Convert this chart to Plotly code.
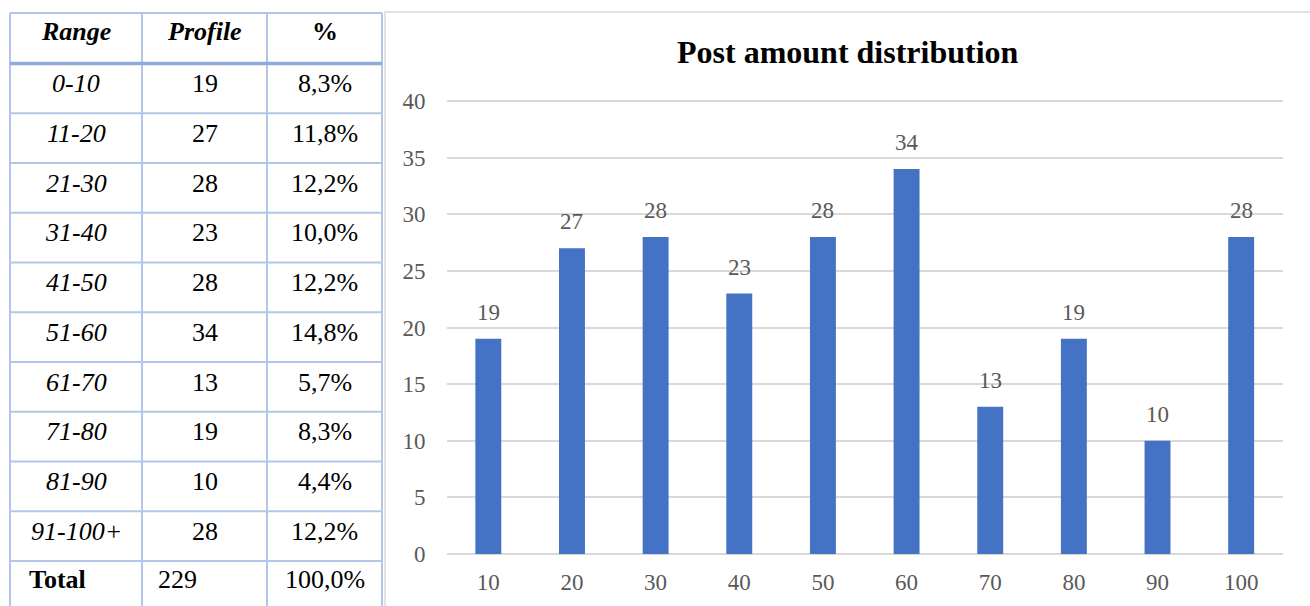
import plotly.graph_objects as go

# Post counts per range
ranges = ["0-10", "11-20", "21-30", "31-40", "41-50", "51-60", "61-70", "71-80", "81-90", "91-100+"]
profiles = [19, 27, 28, 23, 28, 34, 13, 19, 10, 28]
percents = ["8,3%", "11,8%", "12,2%", "10,0%", "12,2%", "14,8%", "5,7%", "8,3%", "4,4%", "12,2%"]
bin_labels = ["10", "20", "30", "40", "50", "60", "70", "80", "90", "100"]
total_label = "229"
total_pct = "100,0%"

W, H = 1310, 606
SERIF = "Liberation Serif, Times New Roman, serif"
BAR = "#4472C4"
GRID = "#d9d9d9"
TICK = "#595959"
TBL_LINE = "#B4C6E7"
TBL_HEAD = "#8EAADB"

# pixel geometry of the chart area
Y_ZERO_PX, Y_40_PX = 554, 101
Y_TOP = 40.2
unit_px = (Y_ZERO_PX - Y_40_PX) / 40


def px(x):
    return x / W


def py(y):
    return 1 - y / H


fig = go.Figure()
fig.add_trace(go.Bar(
    x=bin_labels, y=profiles, marker=dict(color=BAR, line=dict(width=0)),
    hoverinfo="x+y",
))

# value labels above the bars (x given as category index)
annotations = []
for i, v in enumerate(profiles):
    annotations.append(dict(
        x=i, y=v, xref="x", yref="y", text=str(v), showarrow=False,
        yanchor="bottom", yshift=12, font=dict(family=SERIF, size=23, color=TICK),
    ))

# ---- table on the left ----
shapes = []
col_x = [10, 142, 267, 382]
row_step = 49.75
row_tops = [63.5 + i * row_step for i in range(len(ranges) + 1)]  # data rows + total row
table_top = 13

for x in col_x:
    shapes.append(dict(type="line", xref="paper", yref="paper",
                       x0=px(x), x1=px(x), y0=py(table_top), y1=py(H + 5),
                       line=dict(color=TBL_LINE, width=2)))
shapes.append(dict(type="line", xref="paper", yref="paper",
                   x0=px(col_x[0]), x1=px(col_x[-1]), y0=py(table_top), y1=py(table_top),
                   line=dict(color=TBL_LINE, width=2)))
for i, y in enumerate(row_tops):
    color, width = (TBL_HEAD, 3.5) if i == 0 else (TBL_LINE, 2)
    shapes.append(dict(type="line", xref="paper", yref="paper",
                       x0=px(col_x[0]), x1=px(col_x[-1]), y0=py(y), y1=py(y),
                       line=dict(color=color, width=width)))

col_centers = [(col_x[i] + col_x[i + 1]) / 2 for i in range(3)]


def cell(text, x, y, size=26, anchor="center", color="black"):
    annotations.append(dict(
        x=px(x), y=py(y), xref="paper", yref="paper", text=text, showarrow=False,
        xanchor=anchor, yanchor="middle", font=dict(family=SERIF, size=size, color=color),
    ))


# header
cell("<b><i>Range</i></b>", col_centers[0], table_top + 19)
cell("<b><i>Profile</i></b>", col_centers[1], table_top + 19)
cell("<b>%</b>", col_centers[2], table_top + 19)

for i, (r, p, pc) in enumerate(zip(ranges, profiles, percents)):
    yc = row_tops[i] + 20
    cell(f"<i>{r}</i>", col_centers[0], yc)
    cell(str(p), col_centers[1], yc)
    cell(pc, col_centers[2], yc)

yt = row_tops[len(ranges)] + 18
cell("<b>Total</b>", 27, yt, anchor="left")
cell(total_label, 156, yt, anchor="left")
cell(total_pct, col_centers[2], yt)

# chart frame
shapes.append(dict(type="rect", xref="paper", yref="paper",
                   x0=px(385), x1=px(W + 5), y0=py(12), y1=py(H + 5),
                   line=dict(color=GRID, width=1.5), layer="below"))

# title
annotations.append(dict(
    x=px(848), y=py(52), xref="paper", yref="paper", text="<b>Post amount distribution</b>",
    showarrow=False, xanchor="center", yanchor="middle",
    font=dict(family=SERIF, size=32, color="black"),
))

fig.update_layout(
    width=W, height=H, margin=dict(l=0, r=0, t=0, b=0, autoexpand=False),
    paper_bgcolor="white", plot_bgcolor="white",
    showlegend=False, bargap=0.69,
    shapes=shapes, annotations=annotations,
    xaxis=dict(
        domain=[px(446.5), px(1283)], type="category", range=[-0.5, len(bin_labels) - 0.5],
        showgrid=False, showline=False, zeroline=False, ticks="",
        tickfont=dict(family=SERIF, size=23, color=TICK), ticklabelstandoff=12,
    ),
    yaxis=dict(
        domain=[py(Y_ZERO_PX), py(Y_40_PX - (Y_TOP - 40) * unit_px)], range=[0, Y_TOP],
        tickvals=list(range(0, 41, 5)),
        showgrid=True, gridcolor=GRID, gridwidth=1.5,
        zeroline=True, zerolinecolor=GRID, zerolinewidth=1.5,
        showline=False, ticks="",
        tickfont=dict(family=SERIF, size=23, color=TICK), ticklabelstandoff=20,
    ),
)

fig.write_html(
    "out.html",
    post_script="document.body.style.margin='0';document.body.style.overflow='hidden';",
)
